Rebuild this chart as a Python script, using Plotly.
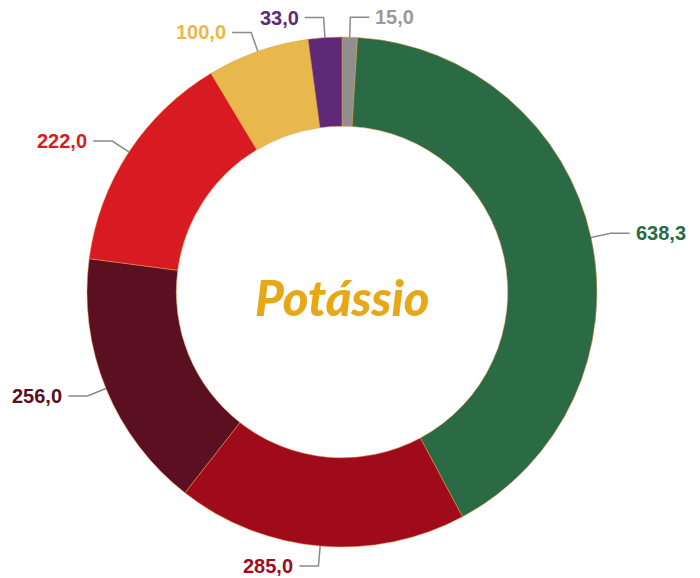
import math
import plotly.graph_objects as go

# Data
categories = ["Cinza", "Verde", "Vermelho escuro", "Bordô", "Vermelho", "Amarelo", "Roxo"]
values = [15.0, 638.3, 285.0, 256.0, 222.0, 100.0, 33.0]
value_labels = ["15,0", "638,3", "285,0", "256,0", "222,0", "100,0", "33,0"]
colors = ["#8f8f8f", "#2a6a44", "#a00b1b", "#5a1020", "#d81b23", "#e8b84c", "#5e2a78"]
label_colors = ["#9a9a9a", "#2a6a44", "#a00b1b", "#5a1020", "#d81b23", "#e8b84c", "#5e2a78"]
title_text = "Potássio"

W, H = 700, 578
CX, CY = 342, 292      # pie centre in pixels
R = 255                # outer radius in pixels
HOLE = 0.65

fig = go.Figure()

fig.add_trace(go.Pie(
    labels=categories,
    values=values,
    sort=False,
    direction="clockwise",
    rotation=0,
    hole=HOLE,
    marker=dict(colors=colors, line=dict(color="#e89a4a", width=0.5)),
    textinfo="none",
    hoverinfo="label+value",
    showlegend=False,
    domain=dict(x=[(CX - R) / W, (CX + R) / W],
                y=[(H - CY - R) / H, (H - CY + R) / H]),
))

# Leader lines and labels computed from the values
total = sum(values)
cum = 0.0
shapes = []
annotations = []
R_ELBOW = 275
HLEN = 19
GAP = 4
for v, lab, col in zip(values, value_labels, label_colors):
    mid = (cum + v / 2) / total * 2 * math.pi
    cum += v
    s, c = math.sin(mid), math.cos(mid)
    x0, y0 = CX + R * s, CY - R * c
    x1, y1 = CX + R_ELBOW * s, CY - R_ELBOW * c
    side = 1 if s >= 0 else -1
    x2 = x1 + side * HLEN
    shapes.append(dict(type="path", xref="x", yref="y",
                       path=f"M{x0},{y0} L{x1},{y1} L{x2},{y1}",
                       line=dict(color="#8a8a8a", width=1.5)))
    annotations.append(dict(x=x2 + side * GAP, y=y1, xref="x", yref="y",
                            text=lab, showarrow=False,
                            xanchor="left" if side > 0 else "right",
                            yanchor="middle",
                            font=dict(family="Liberation Sans Narrow, Arial Narrow, Liberation Sans, sans-serif",
                                      size=20, color=col, weight="bold")))

annotations.append(dict(x=CX, y=CY + 5, xref="x", yref="y", text=title_text,
                        showarrow=False, xanchor="center", yanchor="middle",
                        font=dict(family="Lato, sans-serif", size=49, color="#e6a817",
                                  weight=900, style="italic")))

fig.update_layout(
    width=W, height=H,
    margin=dict(l=0, r=0, t=0, b=0),
    paper_bgcolor="white", plot_bgcolor="rgba(0,0,0,0)",
    xaxis=dict(range=[0, W], visible=False, fixedrange=True),
    yaxis=dict(range=[H, 0], visible=False, fixedrange=True),
    shapes=shapes,
    annotations=annotations,
)

fig.write_html("out.html", config={"displayModeBar": False},
               post_script="document.body.style.margin='0';document.body.style.overflow='hidden';")
